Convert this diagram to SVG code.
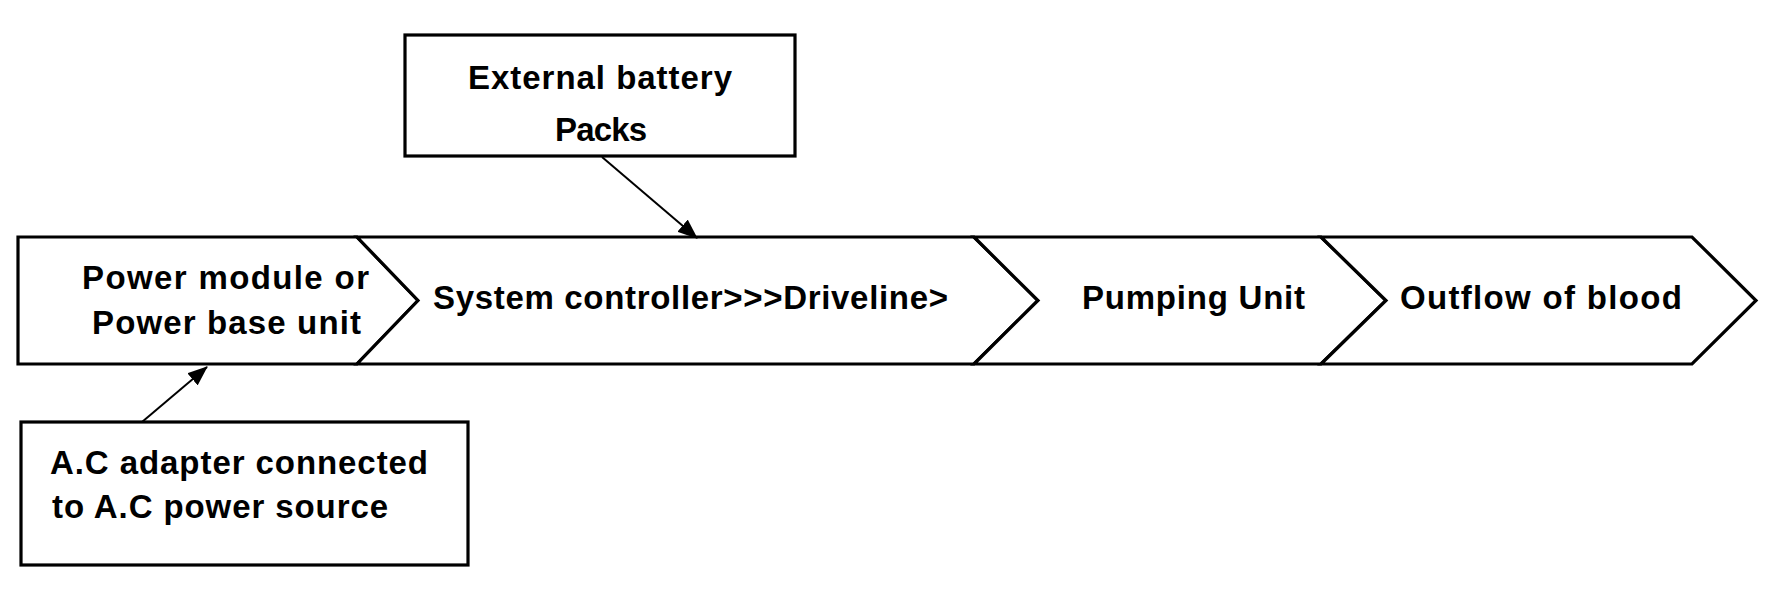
<svg xmlns="http://www.w3.org/2000/svg" width="1772" height="611" viewBox="0 0 1772 611">
<style>
.shape{fill:#fff;stroke:#000;stroke-width:3.2;stroke-linejoin:miter}
.box{fill:#fff;stroke:#000;stroke-width:3.2}
.lbl{font-family:"Liberation Sans",Arial,sans-serif;font-weight:bold;font-size:33px;fill:#000}
.conn{stroke:#000;stroke-width:2;fill:none}
</style>
<defs>
<marker id="ah" markerUnits="userSpaceOnUse" markerWidth="20" markerHeight="16" refX="19" refY="8" orient="auto">
<path d="M0,0 L20,8 L0,16 Z" fill="#000"/>
</marker>
</defs>
<rect width="1772" height="611" fill="#fff"/>
<g id="node-power">
<polygon class="shape" points="18,237 357,237 418,300.5 357,364 18,364"/>
<text class="lbl" x="82" y="289" textLength="287" lengthAdjust="spacing">Power module or</text>
<text class="lbl" x="92" y="334" textLength="269" lengthAdjust="spacing">Power base unit</text>
</g>
<g id="node-controller">
<polygon class="shape" points="357,237 974,237 1038,300.5 974,364 357,364 418,300.5"/>
<text class="lbl" x="433" y="309" textLength="515" lengthAdjust="spacing">System controller&gt;&gt;&gt;Driveline&gt;</text>
</g>
<g id="node-pump">
<polygon class="shape" points="974,237 1321,237 1386,300.5 1321,364 974,364 1038,300.5"/>
<text class="lbl" x="1082" y="309" textLength="223" lengthAdjust="spacing">Pumping Unit</text>
</g>
<g id="node-outflow">
<polygon class="shape" points="1321,237 1692,237 1756,300.5 1692,364 1321,364 1386,300.5"/>
<text class="lbl" x="1400" y="309" textLength="282" lengthAdjust="spacing">Outflow of blood</text>
</g>
<g id="node-battery">
<rect class="box" x="405" y="35" width="390" height="121"/>
<text class="lbl" x="468" y="89" textLength="264" lengthAdjust="spacing">External battery</text>
<text class="lbl" x="555" y="141" textLength="92" lengthAdjust="spacing">Packs</text>
</g>
<g id="node-adapter">
<rect class="box" x="21" y="422" width="447" height="143"/>
<text class="lbl" x="50" y="474" textLength="378" lengthAdjust="spacing">A.C adapter connected</text>
<text class="lbl" x="52" y="518" textLength="336" lengthAdjust="spacing">to A.C power source</text>
</g>
<g id="connectors">
<line class="conn" x1="602" y1="157" x2="697" y2="238" marker-end="url(#ah)"/>
<line class="conn" x1="142" y1="422" x2="207" y2="367" marker-end="url(#ah)"/>
</g>
</svg>
